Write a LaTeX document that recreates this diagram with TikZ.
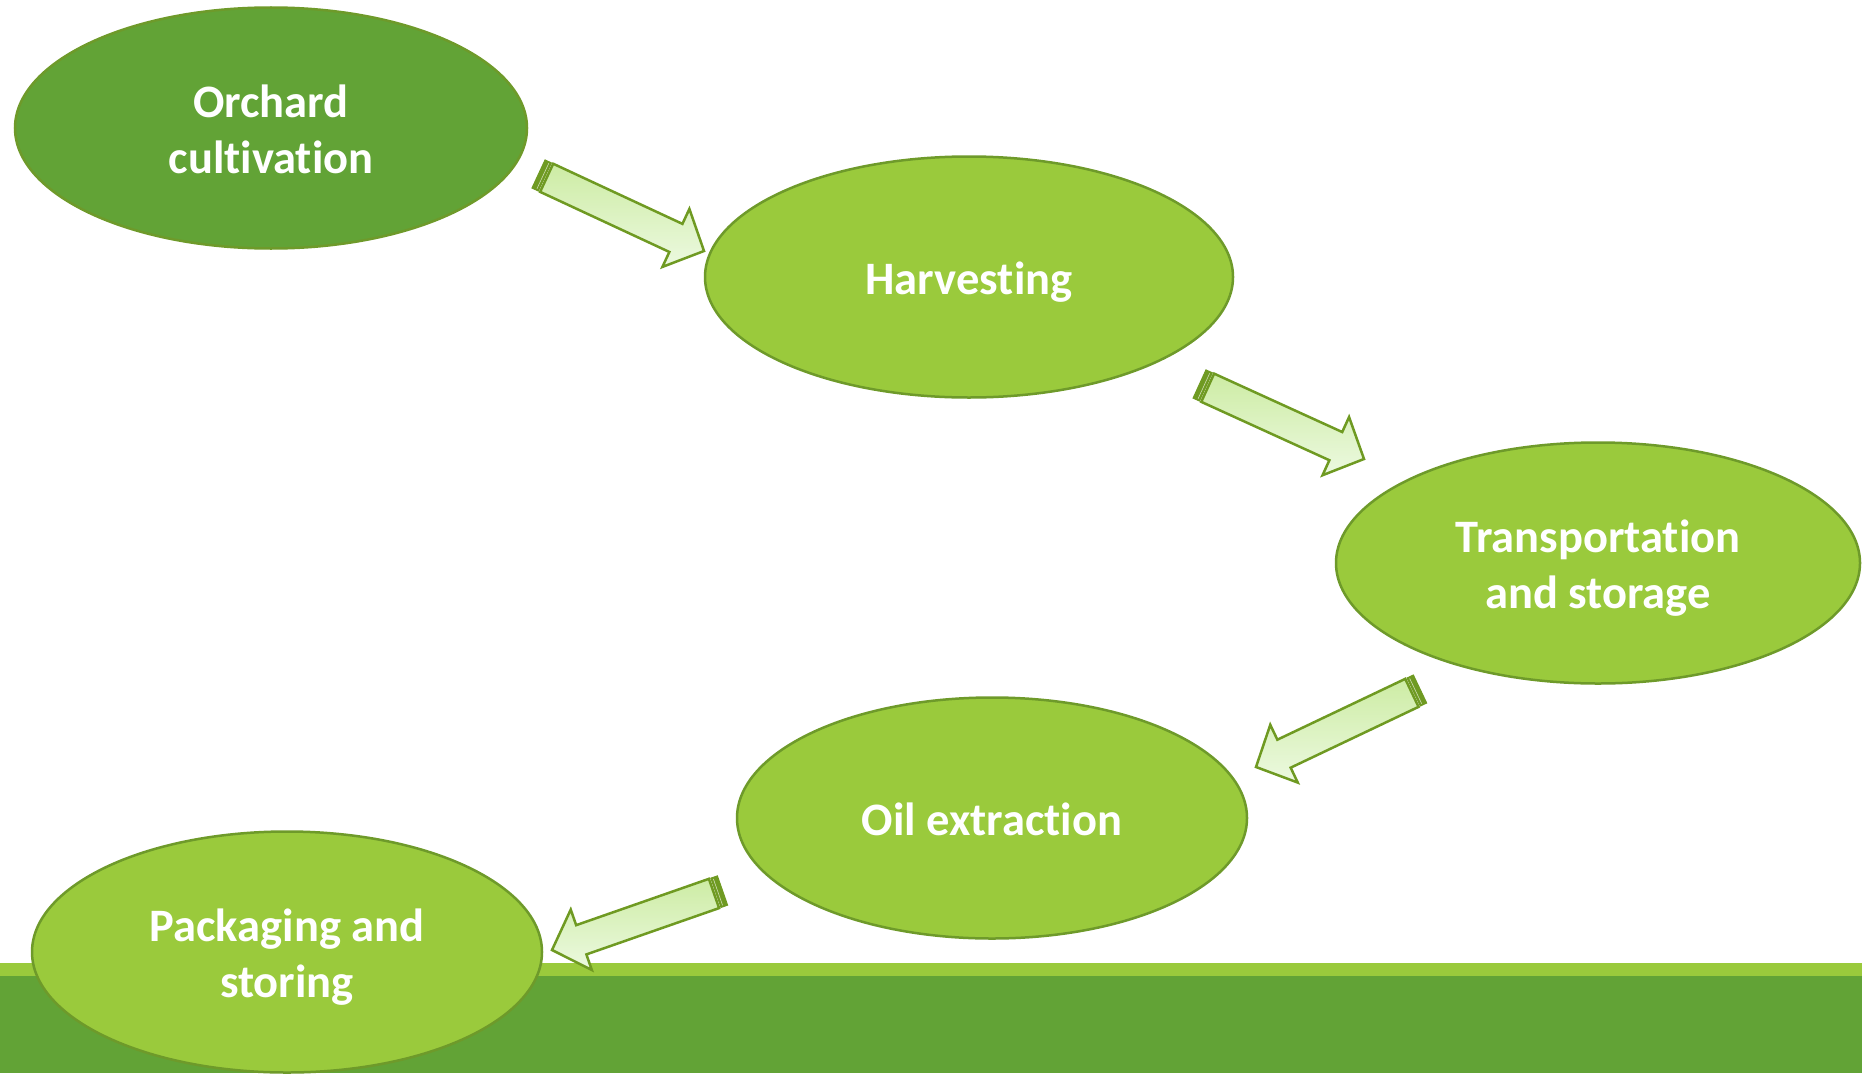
\documentclass[tikz,border=0pt]{standalone}
\usepackage{fontspec}
\setmainfont{Carlito}[Ligatures=CommonOff]
\usetikzlibrary{shapes.geometric,calc}

\definecolor{leafdark}{HTML}{62A336}
\definecolor{leaflight}{HTML}{9ACA3C}
\definecolor{rim}{HTML}{6E9A2A}
\definecolor{arrowrim}{HTML}{6F9A22}
\definecolor{arrowtop}{HTML}{CDECA4}
\definecolor{arrowbot}{HTML}{ECF9E0}

% fixed line box, so every line sits at the same place whatever its letters
\newcommand\linestrut{\rule[-10pt]{0pt}{55.6pt}}

\tikzset{
  stage/.style={ellipse, draw=rim, line width=2.5pt, fill=leaflight,
    minimum width=512pt, minimum height=241pt, inner sep=0pt,
    text=white, align=center,
    font=\bfseries\fontsize{46.5}{56}\selectfont},
  stagedark/.style={stage, fill=leafdark},
  arrowbody/.style={draw=arrowrim, line width=2.5pt, line join=miter,
    top color=arrowtop, bottom color=arrowbot},
  arrowstripe/.style={fill=arrowrim, draw=arrowrim, line width=1pt},
}

% striped block arrow from coordinate #1 (tail) to coordinate #2 (tip)
\newcommand\stripedarrow[2]{%
  \path let \p1=(#1), \p2=(#2) in \pgfextra{%
    \pgfmathsetmacro\arrang{atan2(\y2-\y1,\x2-\x1)}\xdef\arrang{\arrang}%
    \pgfmathsetmacro\arrlen{veclen(\x2-\x1,\y2-\y1)}\xdef\arrlen{\arrlen}};
  \begin{scope}[shift={(#1)}, rotate=\arrang]
    \pgfmathsetmacro\neck{\arrlen-31}
    \path[arrowbody] (9,-15.5) -- (\neck,-15.5) -- (\neck,-32) -- (\arrlen,0)
      -- (\neck,32) -- (\neck,15.5) -- (9,15.5) -- cycle;
    \path[arrowstripe] (0,-15.5) rectangle (7,15.5);
    \draw[white!65!arrowrim, line width=0.6pt] (4.8,-14) -- (4.8,14);
  \end{scope}}

\begin{document}
\begin{tikzpicture}[x=1pt, y=-1pt]
  \useasboundingbox (0,0) rectangle (1862,1073);

  % ground band
  \fill[leafdark] (0,976) rectangle (1862,1073);
  \fill[leaflight] (0,963) rectangle (1862,976);

  % process stages
  \node[stagedark] (orchard) at (271,128) {\linestrut Orchard\\\linestrut cultivation};
  \node[stage, minimum width=528pt] (harvest) at (969,277) {\linestrut Harvesting};
  \node[stage, minimum width=524pt] (transport) at (1598,563) {\linestrut Transportation\\\linestrut and storage};
  \node[stage, minimum width=510pt] (oil) at (992,818) {\linestrut Oil extraction};
  \node[stage, minimum width=510pt] (pack) at (287,952) {\linestrut Packaging and\\\linestrut storing};

  % arrow ends
  \coordinate (a1s) at (538.5,174);  \coordinate (a1e) at (704,251);
  \coordinate (a2s) at (1199.5,384); \coordinate (a2e) at (1364,459);
  \coordinate (a3s) at (1420,689);   \coordinate (a3e) at (1256,767);
  \coordinate (a4s) at (722.5,890.5);\coordinate (a4e) at (552,950);

  \stripedarrow{a1s}{a1e}
  \stripedarrow{a2s}{a2e}
  \stripedarrow{a3s}{a3e}
  \stripedarrow{a4s}{a4e}
\end{tikzpicture}
\end{document}
